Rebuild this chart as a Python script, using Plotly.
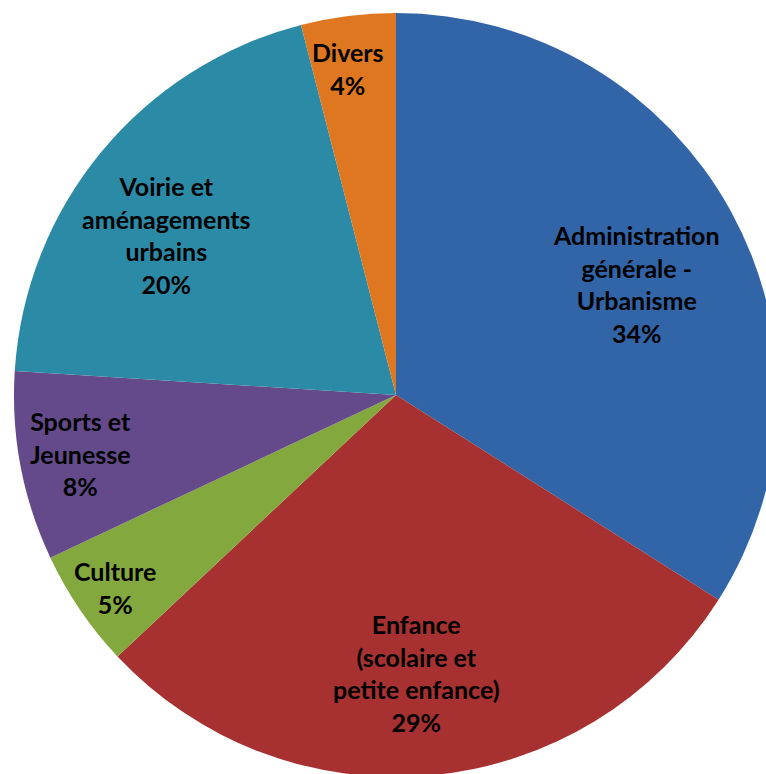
import math
import plotly.graph_objects as go

categories = [
    "Administration<br>générale -<br>Urbanisme",
    "Enfance<br>(scolaire et<br>petite enfance)",
    "Culture",
    "Sports et<br>Jeunesse",
    "Voirie et<br>aménagements<br>urbains",
    "Divers",
]
values = [34, 29, 5, 8, 20, 4]
colors = ["#3264A8", "#A63130", "#83A83D", "#644A8A", "#2B8BA7", "#DE771F"]
# label placement (layout only): radius fraction and angular nudge in degrees
label_radius = [0.693, 0.729, 0.891, 0.841, 0.734, 0.863]
label_nudge = [3.9, 1.1, -0.2, 0.3, -4.7, -1.1]

W, H = 792, 780
cx, cy, r = 396, 395, 382

fig = go.Figure(go.Pie(
    labels=categories,
    values=values,
    sort=False,
    direction="clockwise",
    rotation=0,
    marker=dict(colors=colors, line=dict(width=0)),
    textinfo="none",
    showlegend=False,
    hoverinfo="label+percent",
    domain=dict(x=[(cx - r) / W, (cx + r) / W], y=[(H - cy - r) / H, (H - cy + r) / H]),
))

total = sum(values)
cum = 0
for lab, v, f, d in zip(categories, values, label_radius, label_nudge):
    mid = (cum + v / 2) / total * 2 * math.pi + math.radians(d)
    cum += v
    px = cx + f * r * math.sin(mid)
    py = cy - f * r * math.cos(mid)
    fig.add_annotation(
        x=px / W, y=(H - py) / H, xref="paper", yref="paper",
        text=f"{lab}<br>{round(v / total * 100)}%",
        showarrow=False, xanchor="center", yanchor="middle", align="center",
        font=dict(family="Lato", size=25, color="black", weight="bold"),
    )

fig.update_layout(
    width=W, height=H, autosize=False,
    margin=dict(l=0, r=0, t=0, b=0),
    paper_bgcolor="white",
)
fig.write_html(
    "out.html",
    config={"displayModeBar": False},
    post_script="document.body.style.margin='0';document.body.style.overflow='hidden';",
)
